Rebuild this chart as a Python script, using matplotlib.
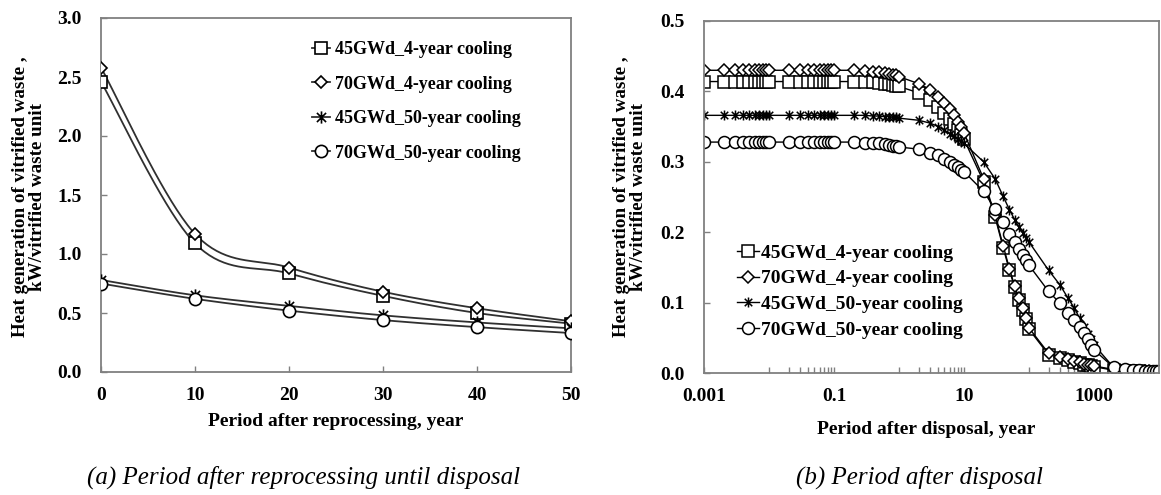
import numpy as np
import matplotlib
matplotlib.use("Agg")
import matplotlib.pyplot as plt
from matplotlib.path import Path
from matplotlib.ticker import FixedLocator, NullFormatter, FixedFormatter

plt.rcParams['font.family'] = ['Liberation Serif', 'DejaVu Serif']
plt.rcParams['font.weight'] = 'bold'

# ---------------- data: heat generation (kW per vitrified waste unit) ----------------
series_labels = ["45GWd_4-year cooling", "70GWd_4-year cooling",
                 "45GWd_50-year cooling", "70GWd_50-year cooling"]

# (a) period after reprocessing until disposal
years_reproc = [0, 10, 20, 30, 40, 50]
a_45_4 = [2.46, 1.09, 0.835, 0.645, 0.50, 0.41]
a_70_4 = [2.58, 1.17, 0.885, 0.68, 0.54, 0.43]
a_45_50 = [0.78, 0.65, 0.56, 0.48, 0.42, 0.37]
a_70_50 = [0.75, 0.62, 0.52, 0.44, 0.38, 0.33]

# (b) period after disposal
years_disp = [0.001, 0.002, 0.003, 0.004, 0.005, 0.006, 0.007, 0.008, 0.009,
              0.01, 0.02, 0.03, 0.04, 0.05, 0.06, 0.07, 0.08, 0.09,
              0.1, 0.2, 0.3, 0.4, 0.5, 0.6, 0.7, 0.8, 0.9,
              1, 2, 3, 4, 5, 6, 7, 8, 9,
              10, 20, 30, 40, 50, 60, 70, 80, 90,
              100, 200, 300, 400, 500, 600, 700, 800, 900,
              1000, 2000, 3000, 4000, 5000, 6000, 7000, 8000, 9000,
              10000]
b_45_4 = [0.414, 0.414, 0.414, 0.414, 0.414, 0.414, 0.414, 0.414, 0.414,
          0.414, 0.414, 0.414, 0.414, 0.414, 0.414, 0.414, 0.414, 0.414,
          0.414, 0.414, 0.413, 0.413, 0.412, 0.411, 0.410, 0.409, 0.408,
          0.407, 0.398, 0.388, 0.378, 0.369, 0.361, 0.353, 0.345, 0.338,
          0.332, 0.272, 0.222, 0.178, 0.146, 0.122, 0.104, 0.090, 0.076,
          0.062, 0.026, 0.021, 0.018, 0.016, 0.014, 0.012, 0.011, 0.010,
          0.009, 0.004, 0.003, 0.003, 0.003, 0.002, 0.002, 0.002, 0.002,
          0.002]
b_70_4 = [0.430, 0.430, 0.430, 0.430, 0.430, 0.430, 0.430, 0.430, 0.430,
          0.430, 0.430, 0.430, 0.430, 0.430, 0.430, 0.430, 0.430, 0.430,
          0.430, 0.430, 0.429, 0.428, 0.427, 0.426, 0.425, 0.424, 0.423,
          0.421, 0.411, 0.402, 0.392, 0.383, 0.375, 0.366, 0.357, 0.349,
          0.341, 0.276, 0.224, 0.181, 0.148, 0.124, 0.106, 0.092, 0.078,
          0.064, 0.028, 0.023, 0.020, 0.017, 0.015, 0.013, 0.012, 0.011,
          0.010, 0.005, 0.004, 0.003, 0.003, 0.003, 0.003, 0.002, 0.002,
          0.002]
b_45_50 = [0.366, 0.366, 0.366, 0.366, 0.366, 0.366, 0.366, 0.366, 0.366,
           0.366, 0.366, 0.366, 0.366, 0.366, 0.366, 0.366, 0.366, 0.366,
           0.366, 0.366, 0.366, 0.365, 0.365, 0.364, 0.364, 0.363, 0.363,
           0.362, 0.359, 0.355, 0.350, 0.345, 0.340, 0.336, 0.332, 0.329,
           0.326, 0.300, 0.276, 0.251, 0.232, 0.218, 0.207, 0.199, 0.192,
           0.186, 0.146, 0.125, 0.106, 0.092, 0.078, 0.066, 0.056, 0.048,
           0.040, 0.008, 0.005, 0.004, 0.004, 0.003, 0.003, 0.003, 0.003,
           0.003]
b_70_50 = [0.328, 0.328, 0.328, 0.328, 0.328, 0.328, 0.328, 0.328, 0.328,
           0.328, 0.328, 0.328, 0.328, 0.328, 0.328, 0.328, 0.328, 0.328,
           0.328, 0.328, 0.327, 0.327, 0.326, 0.325, 0.324, 0.323, 0.322,
           0.321, 0.318, 0.313, 0.309, 0.304, 0.300, 0.296, 0.292, 0.289,
           0.286, 0.258, 0.233, 0.214, 0.198, 0.186, 0.176, 0.167, 0.160,
           0.153, 0.116, 0.099, 0.085, 0.075, 0.066, 0.057, 0.048, 0.040,
           0.033, 0.008, 0.005, 0.004, 0.004, 0.003, 0.003, 0.003, 0.003,
           0.003]

# ---------------- styling helpers ----------------
# asterisk-like marker: vertical stroke plus a cross
STAR = Path([(0, -1), (0, 1), (-0.75, -0.75), (0.75, 0.75), (-0.75, 0.75), (0.75, -0.75)],
            [Path.MOVETO, Path.LINETO] * 3)

SPINE = '#808080'
FONT_TICK = 14


def smooth_curve(x, y, n=40):
    """Bezier smoothing through the points (spreadsheet style smoothed line)."""
    pts = np.column_stack([x, y]).astype(float)
    out = []
    for i in range(len(pts) - 1):
        p0 = pts[i - 1] if i > 0 else pts[i]
        p1, p2 = pts[i], pts[i + 1]
        p3 = pts[i + 2] if i + 2 < len(pts) else pts[i + 1]
        c1 = p1 + (p2 - p0) / 6.0
        c2 = p2 - (p3 - p1) / 6.0
        s = np.linspace(0, 1, n)[:, None]
        seg = (1 - s) ** 3 * p1 + 3 * (1 - s) ** 2 * s * c1 + 3 * (1 - s) * s ** 2 * c2 + s ** 3 * p2
        out.append(seg if i == 0 else seg[1:])
    c = np.vstack(out)
    return c[:, 0], c[:, 1]


def style_axes(ax):
    for sp in ax.spines.values():
        sp.set_color(SPINE)
        sp.set_linewidth(1.3)
    ax.tick_params(which='both', direction='in', color=SPINE, width=1.0,
                   labelsize=FONT_TICK)
    ax.tick_params(which='major', length=4)
    ax.tick_params(which='minor', length=4)
    ax.tick_params(axis='y', pad=14)
    ax.tick_params(axis='x', pad=11)
    for lab in ax.get_xticklabels() + ax.get_yticklabels():
        lab.set_fontweight('bold')


fig = plt.figure(figsize=(11.61, 4.95), dpi=100)
W, H = 1161.0, 495.0

# ---------------- (a) ----------------
ax1 = fig.add_axes([101 / W, 1 - 372 / H, 470 / W, 354 / H])
left_sets = [
    (a_45_4, dict(marker='s', ms=8.8)),
    (a_70_4, dict(marker='D', ms=6.3)),
    (a_45_50, dict(marker=STAR, ms=8.8)),
    (a_70_50, dict(marker='o', ms=8.8)),
]
handles = []
for (vals, mk), lab in zip(left_sets, series_labels):
    sx, sy = smooth_curve(years_reproc, vals)
    ax1.plot(sx, sy, color='#303030', lw=1.3, zorder=2)
    ax1.plot(years_reproc, vals, ls='none', mfc='white', mec='black', mew=1.2,
             zorder=3, **mk)
    h, = ax1.plot([], [], color='#303030', lw=1.3, mfc='white', mec='black',
                  mew=1.2, label=lab, **mk)
    handles.append(h)

ax1.set_xlim(0, 50)
ax1.set_ylim(0, 3.0)
ax1.set_xticks([0, 10, 20, 30, 40, 50])
ax1.set_yticks([0.0, 0.5, 1.0, 1.5, 2.0, 2.5, 3.0])
ax1.set_yticklabels(['0.0', '0.5', '1.0', '1.5', '2.0', '2.5', '3.0'])
style_axes(ax1)

leg1 = ax1.legend(handles=handles, loc='upper left',
                  bbox_to_anchor=(312 / W, 1 - 41 / H), bbox_transform=fig.transFigure,
                  frameon=False, handlelength=1.0, handletextpad=0.28,
                  labelspacing=0.97, borderpad=0, borderaxespad=0,
                  prop=dict(family='Liberation Serif', weight='bold', size=13))

fig.text(336 / W, 1 - 422 / H, 'Period after reprocessing, year', ha='center', va='center',
         fontsize=14, fontweight='bold')
fig.text(29 / W, 1 - 197 / H,
         'Heat generation of vitrified waste ,\nkW/vitrified waste unit',
         rotation=90, ha='center', va='center', fontsize=13.7, fontweight='bold',
         linespacing=1.05, multialignment='center')

# ---------------- (b) ----------------
ax2 = fig.add_axes([704 / W, 1 - 373 / H, 455 / W, 352 / H])
right_sets = [
    (b_45_4, dict(marker='s', ms=8.6)),
    (b_70_4, dict(marker='D', ms=6.0)),
    (b_45_50, dict(marker=STAR, ms=7.2)),
    (b_70_50, dict(marker='o', ms=8.6)),
]
handles2 = []
for (vals, mk), lab in zip(right_sets, series_labels):
    h, = ax2.plot(years_disp, vals, color='black', lw=1.0, mfc='white', mec='black',
                  mew=1.1, label=lab, **mk)
    handles2.append(h)

ax2.set_xscale('log')
ax2.set_xlim(0.001, 10000)
ax2.set_ylim(0, 0.5)
ax2.xaxis.set_major_locator(FixedLocator([0.001, 0.1, 10, 1000]))
ax2.xaxis.set_major_formatter(FixedFormatter(['0.001', '0.1', '10', '1000']))
ax2.xaxis.set_minor_locator(FixedLocator([n * 10.0 ** k for k in (-2, 0, 2) for n in range(1, 10)]))
ax2.xaxis.set_minor_formatter(NullFormatter())
ax2.set_yticks([0.0, 0.1, 0.2, 0.3, 0.4, 0.5])
ax2.set_yticklabels(['0.0', '0.1', '0.2', '0.3', '0.4', '0.5'])
style_axes(ax2)

leg2 = ax2.legend(handles=handles2, loc='upper left',
                  bbox_to_anchor=(737 / W, 1 - 244 / H), bbox_transform=fig.transFigure,
                  frameon=False, handlelength=1.15, handletextpad=0.1,
                  labelspacing=0.42, borderpad=0, borderaxespad=0,
                  prop=dict(family='Liberation Serif', weight='bold', size=14))

fig.text(926 / W, 1 - 430 / H, 'Period after disposal, year', ha='center', va='center',
         fontsize=14, fontweight='bold')
fig.text(630 / W, 1 - 197 / H,
         'Heat generation of vitrified waste ,\nkW/vitrified waste unit',
         rotation=90, ha='center', va='center', fontsize=13.7, fontweight='bold',
         linespacing=1.05, multialignment='center')

# ---------------- captions ----------------
fig.text(304 / W, 1 - 477 / H, '(a) Period after reprocessing until disposal',
         ha='center', va='center', fontsize=18, fontstyle='italic', fontweight='normal')
fig.text(920 / W, 1 - 477 / H, '(b) Period after disposal',
         ha='center', va='center', fontsize=18, fontstyle='italic', fontweight='normal')

fig.savefig('out.png', dpi=100)
